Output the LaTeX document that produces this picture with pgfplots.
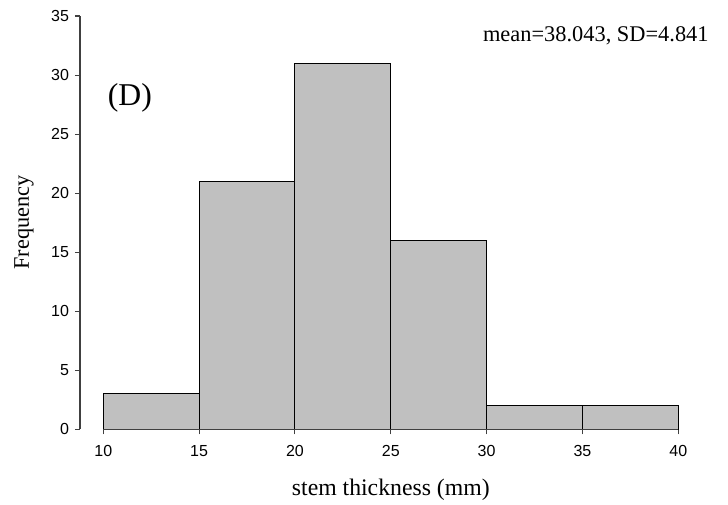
\documentclass[border=0pt]{standalone}
\usepackage{fontspec}
\setmainfont{Liberation Serif}
\newfontfamily\arialf{Liberation Sans}
\usepackage{pgfplots}
\pgfplotsset{compat=1.18}
\definecolor{barfill}{HTML}{C0C0C0}
\definecolor{axgray}{HTML}{404040}
\begin{document}
\begin{tikzpicture}
\begin{axis}[
    scale only axis,
    width=448.7pt, height=310pt,
    xmin=8.785, xmax=40,
    ymin=0, ymax=35,
    axis y line*=left,
    axis x line*=bottom,
    x axis line style={draw=none},
    y axis line style={axgray, line width=0.8pt},
    xtick={10,15,...,40},
    ytick={0,5,...,35},
    tick align=outside,
    major tick length=3.75pt,
    tick style={axgray, line width=0.8pt},
    /pgf/number format/assume math mode=true,
    tick label style={font=\arialf\fontsize{12}{14}\selectfont},
    yticklabel style={xshift=-1pt},
    xticklabel style={yshift=-5pt},
    xlabel={stem thickness (mm)},
    ylabel={Frequency},
    every axis x label/.style={at={(rel axis cs:0.5195,0)}, anchor=center, yshift=-45.5pt, font=\fontsize{17.8}{20}\selectfont},
    every axis y label/.style={at={([xshift=-42pt]rel axis cs:0,0.5)}, anchor=center, rotate=90, font=\fontsize{16.7}{19}\selectfont},
    clip=false,
]
\addplot[ybar interval, fill=barfill, draw=black, line width=0.8pt] coordinates {
    (10,3) (15,21) (20,31) (25,16) (30,2) (35,2) (40,2)
};
\draw[axgray, line width=0.8pt] (axis cs:10,0) -- (axis cs:40,0);
\node[font=\fontsize{16.8}{19}\selectfont] at (axis cs:35.7,33.3) {mean=38.043, SD=4.841};
\node[font=\fontsize{23.8}{26}\selectfont] at (axis cs:11.39,28.1) {(D)};
\coordinate (ll) at (rel axis cs:0,0);
\coordinate (ur) at (rel axis cs:1,1);
\end{axis}
\pgfresetboundingbox
\path ([shift={(-60pt,-56pt)}]ll) rectangle ([shift={(37.3pt,12pt)}]ur);
\end{tikzpicture}
\end{document}
